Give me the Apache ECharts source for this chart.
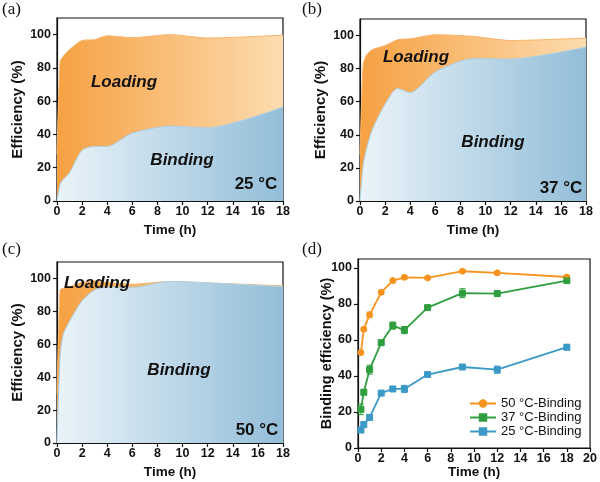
<!DOCTYPE html>
<html>
<head>
<meta charset="utf-8">
<script src="https://cdn.jsdelivr.net/npm/echarts@6/dist/echarts.min.js"></script>
<style>html,body{margin:0;padding:0;background:#fff}#c{width:600px;height:482px}</style>
</head>
<body>
<div id="c"></div>
<script>
// ---- data ----
const timeArea = [0, 0.25, 0.5, 1, 2, 3, 4, 6, 9, 12, 18];
const load25 = [28, 84, 87, 91, 96.5, 97, 99.3, 98.2, 100, 98, 99.7];
const bind25Area = [0, 10, 13, 17, 30.5, 32.8, 32.8, 40.8, 45, 44, 56.5];
const load37 = [28, 82, 88, 91.5, 94, 97.5, 98, 100.5, 99.5, 97, 98.5];
const bind37Area = [0, 21.5, 31, 43.5, 58.5, 68, 65.5, 78, 86, 85.8, 93];
const load50 = [30, 93, 94, 95, 97.5, 98.5, 97.5, 96.5, 98.2, 97.3, 95.5];
const bind50Area = [0, 53, 66, 74, 86.5, 93, 94.8, 94.5, 98.2, 97.3, 95];

const timeD = [0.25, 0.5, 1, 2, 3, 4, 6, 9, 12, 18];
const bind50 = [53, 66, 74, 86.5, 93, 94.8, 94.5, 98.2, 97.3, 95];
const err50 = [1, 1, 1.5, 1, 1, 0.8, 0.8, 0.8, 0.8, 1];
const bind37 = [21.5, 31, 43.5, 58.5, 68, 65.5, 78, 86, 85.8, 93];
const err37 = [3, 1.5, 2.5, 1, 2, 2, 0.8, 2.5, 1, 1];
const bind25 = [10, 13, 17, 30.5, 32.8, 32.8, 40.8, 45, 43.5, 56];
const err25 = [1, 1.5, 1.5, 1, 1, 2, 0.8, 1, 2, 1.5];

const yTicks = [0, 20, 40, 60, 80, 100];
const xTicksA = [0, 2, 4, 6, 8, 10, 12, 14, 16, 18];
const xTicksD = [0, 2, 4, 6, 8, 10, 12, 14, 16, 18, 20];

// ---- helpers ----
const pair = (xs, ys) => xs.map((x, i) => [x, ys[i]]);
const FONT = 'Liberation Sans, Arial, sans-serif';
const grids = [
  {left: 57, top: 18, width: 226, height: 183},
  {left: 360, top: 19, width: 226, height: 182},
  {left: 57, top: 262, width: 226, height: 181},
  {left: 358, top: 259, width: 234, height: 189}
].map(g => Object.assign({show: true, borderColor: '#111', borderWidth: 1.2, backgroundColor: 'transparent'}, g));

function xAx(i, max, ticks, gap) {
  return {
    gridIndex: i, type: 'value', min: 0, max: max, interval: 2,
    name: 'Time (h)', nameLocation: 'middle', nameGap: gap, nameMoveOverlap: false,
    nameTextStyle: {fontFamily: FONT, fontWeight: 'bold', fontSize: 13.5, color: '#111'},
    axisLine: {show: true, lineStyle: {color: '#111', width: 1.2}},
    axisTick: {show: true, inside: false, length: 4, customValues: ticks, lineStyle: {color: '#111', width: 1.2}},
    axisLabel: {customValues: ticks, margin: 4, fontFamily: FONT, fontWeight: 'bold', fontSize: 12.5, color: '#111'},
    splitLine: {show: false}
  };
}
function yAx(i, max, name, gap, fs) {
  return {
    gridIndex: i, type: 'value', min: 0, max: max, interval: 20,
    name: name, nameLocation: 'middle', nameGap: gap, nameMoveOverlap: false,
    nameTextStyle: {fontFamily: FONT, fontWeight: 'bold', fontSize: fs, color: '#111'},
    axisLine: {show: true, lineStyle: {color: '#111', width: 1.2}},
    axisTick: {show: true, inside: false, length: 4, customValues: yTicks, lineStyle: {color: '#111', width: 1.2}},
    axisLabel: {customValues: yTicks, margin: 6, fontFamily: FONT, fontWeight: 'bold', fontSize: 12.5, color: '#111'},
    splitLine: {show: false}
  };
}
const gradLoad = new echarts.graphic.LinearGradient(0, 0, 1, 0, [
  {offset: 0, color: '#F6A143'}, {offset: 1, color: '#FDDCB0'}]);
const gradBind = new echarts.graphic.LinearGradient(0, 0, 1, 0, [
  {offset: 0, color: '#EAF3F9'}, {offset: 1, color: '#93BED8'}]);

function areaSeries(i, loadArr, bindArr) {
  return [
    {type: 'line', xAxisIndex: i, yAxisIndex: i, data: pair(timeArea, loadArr), smooth: 0.25,
     symbol: 'none', lineStyle: {color: '#F8B46A', width: 1}, areaStyle: {color: gradLoad, opacity: 1}, z: 2, silent: true},
    {type: 'line', xAxisIndex: i, yAxisIndex: i, data: pair(timeArea, bindArr), smooth: 0.25,
     symbol: 'none', lineStyle: {color: '#A9D0E6', width: 1}, areaStyle: {color: gradBind, opacity: 1}, z: 3, silent: true}
  ];
}
function lineSeries(name, color, symbol, ys, errs) {
  return [
    {name: name, type: 'line', xAxisIndex: 3, yAxisIndex: 3, data: pair(timeD, ys),
     symbol: symbol, symbolSize: 6, color: color, lineStyle: {color: color, width: 1.8},
     itemStyle: {color: color, borderColor: color, borderWidth: 1}, z: 4},
    {type: 'custom', xAxisIndex: 3, yAxisIndex: 3, data: timeD.map((t, k) => [t, ys[k] - errs[k], ys[k] + errs[k]]),
     z: 5, silent: true,
     renderItem: (params, api) => {
       const lo = api.coord([api.value(0), api.value(1)]);
       const hi = api.coord([api.value(0), api.value(2)]);
       const w = 3;
       const st = {stroke: color, lineWidth: 1};
       return {type: 'group', children: [
         {type: 'line', shape: {x1: lo[0], y1: lo[1], x2: hi[0], y2: hi[1]}, style: st},
         {type: 'line', shape: {x1: lo[0] - w, y1: lo[1], x2: lo[0] + w, y2: lo[1]}, style: st},
         {type: 'line', shape: {x1: hi[0] - w, y1: hi[1], x2: hi[0] + w, y2: hi[1]}, style: st}
       ]};
     }}
  ];
}

function txt(x, y, s, opts) {
  return {type: 'text', x: x, y: y, z: 50, style: Object.assign({text: s, fill: '#111', fontFamily: FONT, fontWeight: 'bold', fontSize: 17, align: 'center', verticalAlign: 'middle'}, opts || {})};
}
const serif = {fontFamily: 'Liberation Serif, Times New Roman, serif', fontWeight: 'normal', fontSize: 17, align: 'left'};

const option = {
  animation: false,
  grid: grids,
  xAxis: [xAx(0, 18, xTicksA, 22), xAx(1, 18, xTicksA, 22), xAx(2, 18, xTicksA, 22), xAx(3, 20, xTicksD, 17)],
  yAxis: [yAx(0, 110, 'Efficiency (%)', 32, 15), yAx(1, 110, 'Efficiency (%)', 32, 15), yAx(2, 110, 'Efficiency (%)', 32, 15), yAx(3, 105, 'Binding efficiency (%)', 24, 14.5)],
  legend: {
    data: ['50 °C-Binding', '37 °C-Binding', '25 °C-Binding'],
    orient: 'vertical', left: 464, top: 392, itemWidth: 26, itemHeight: 8, itemGap: 1,
    textStyle: {fontFamily: FONT, fontSize: 13, color: '#111'}
  },
  series: [
    ...areaSeries(0, load25, bind25Area),
    ...areaSeries(1, load37, bind37Area),
    ...areaSeries(2, load50, bind50Area),
    ...lineSeries('50 °C-Binding', '#F7931E', 'circle', bind50, err50),
    ...lineSeries('37 °C-Binding', '#2E9E3E', 'rect', bind37, err37),
    ...lineSeries('25 °C-Binding', '#3B9AC6', 'rect', bind25, err25)
  ],
  graphic: [
    txt(2, 10, '(a)', serif), txt(302, 10, '(b)', serif), txt(2, 250, '(c)', serif), txt(302, 250, '(d)', serif),
    txt(124, 82, 'Loading', {fontStyle: 'italic'}),
    txt(182, 160, 'Binding', {fontStyle: 'italic'}),
    txt(256, 184, '25 °C', {fontSize: 17}),
    txt(416, 57, 'Loading', {fontStyle: 'italic'}),
    txt(493, 142, 'Binding', {fontStyle: 'italic'}),
    txt(561, 188, '37 °C', {fontSize: 17}),
    txt(97, 283, 'Loading', {fontStyle: 'italic'}),
    txt(179, 370, 'Binding', {fontStyle: 'italic'}),
    txt(257, 430, '50 °C', {fontSize: 17})
  ]
};
const chart = echarts.init(document.getElementById('c'), null, {renderer: 'canvas'});
chart.setOption(option);
</script>
</body>
</html>
